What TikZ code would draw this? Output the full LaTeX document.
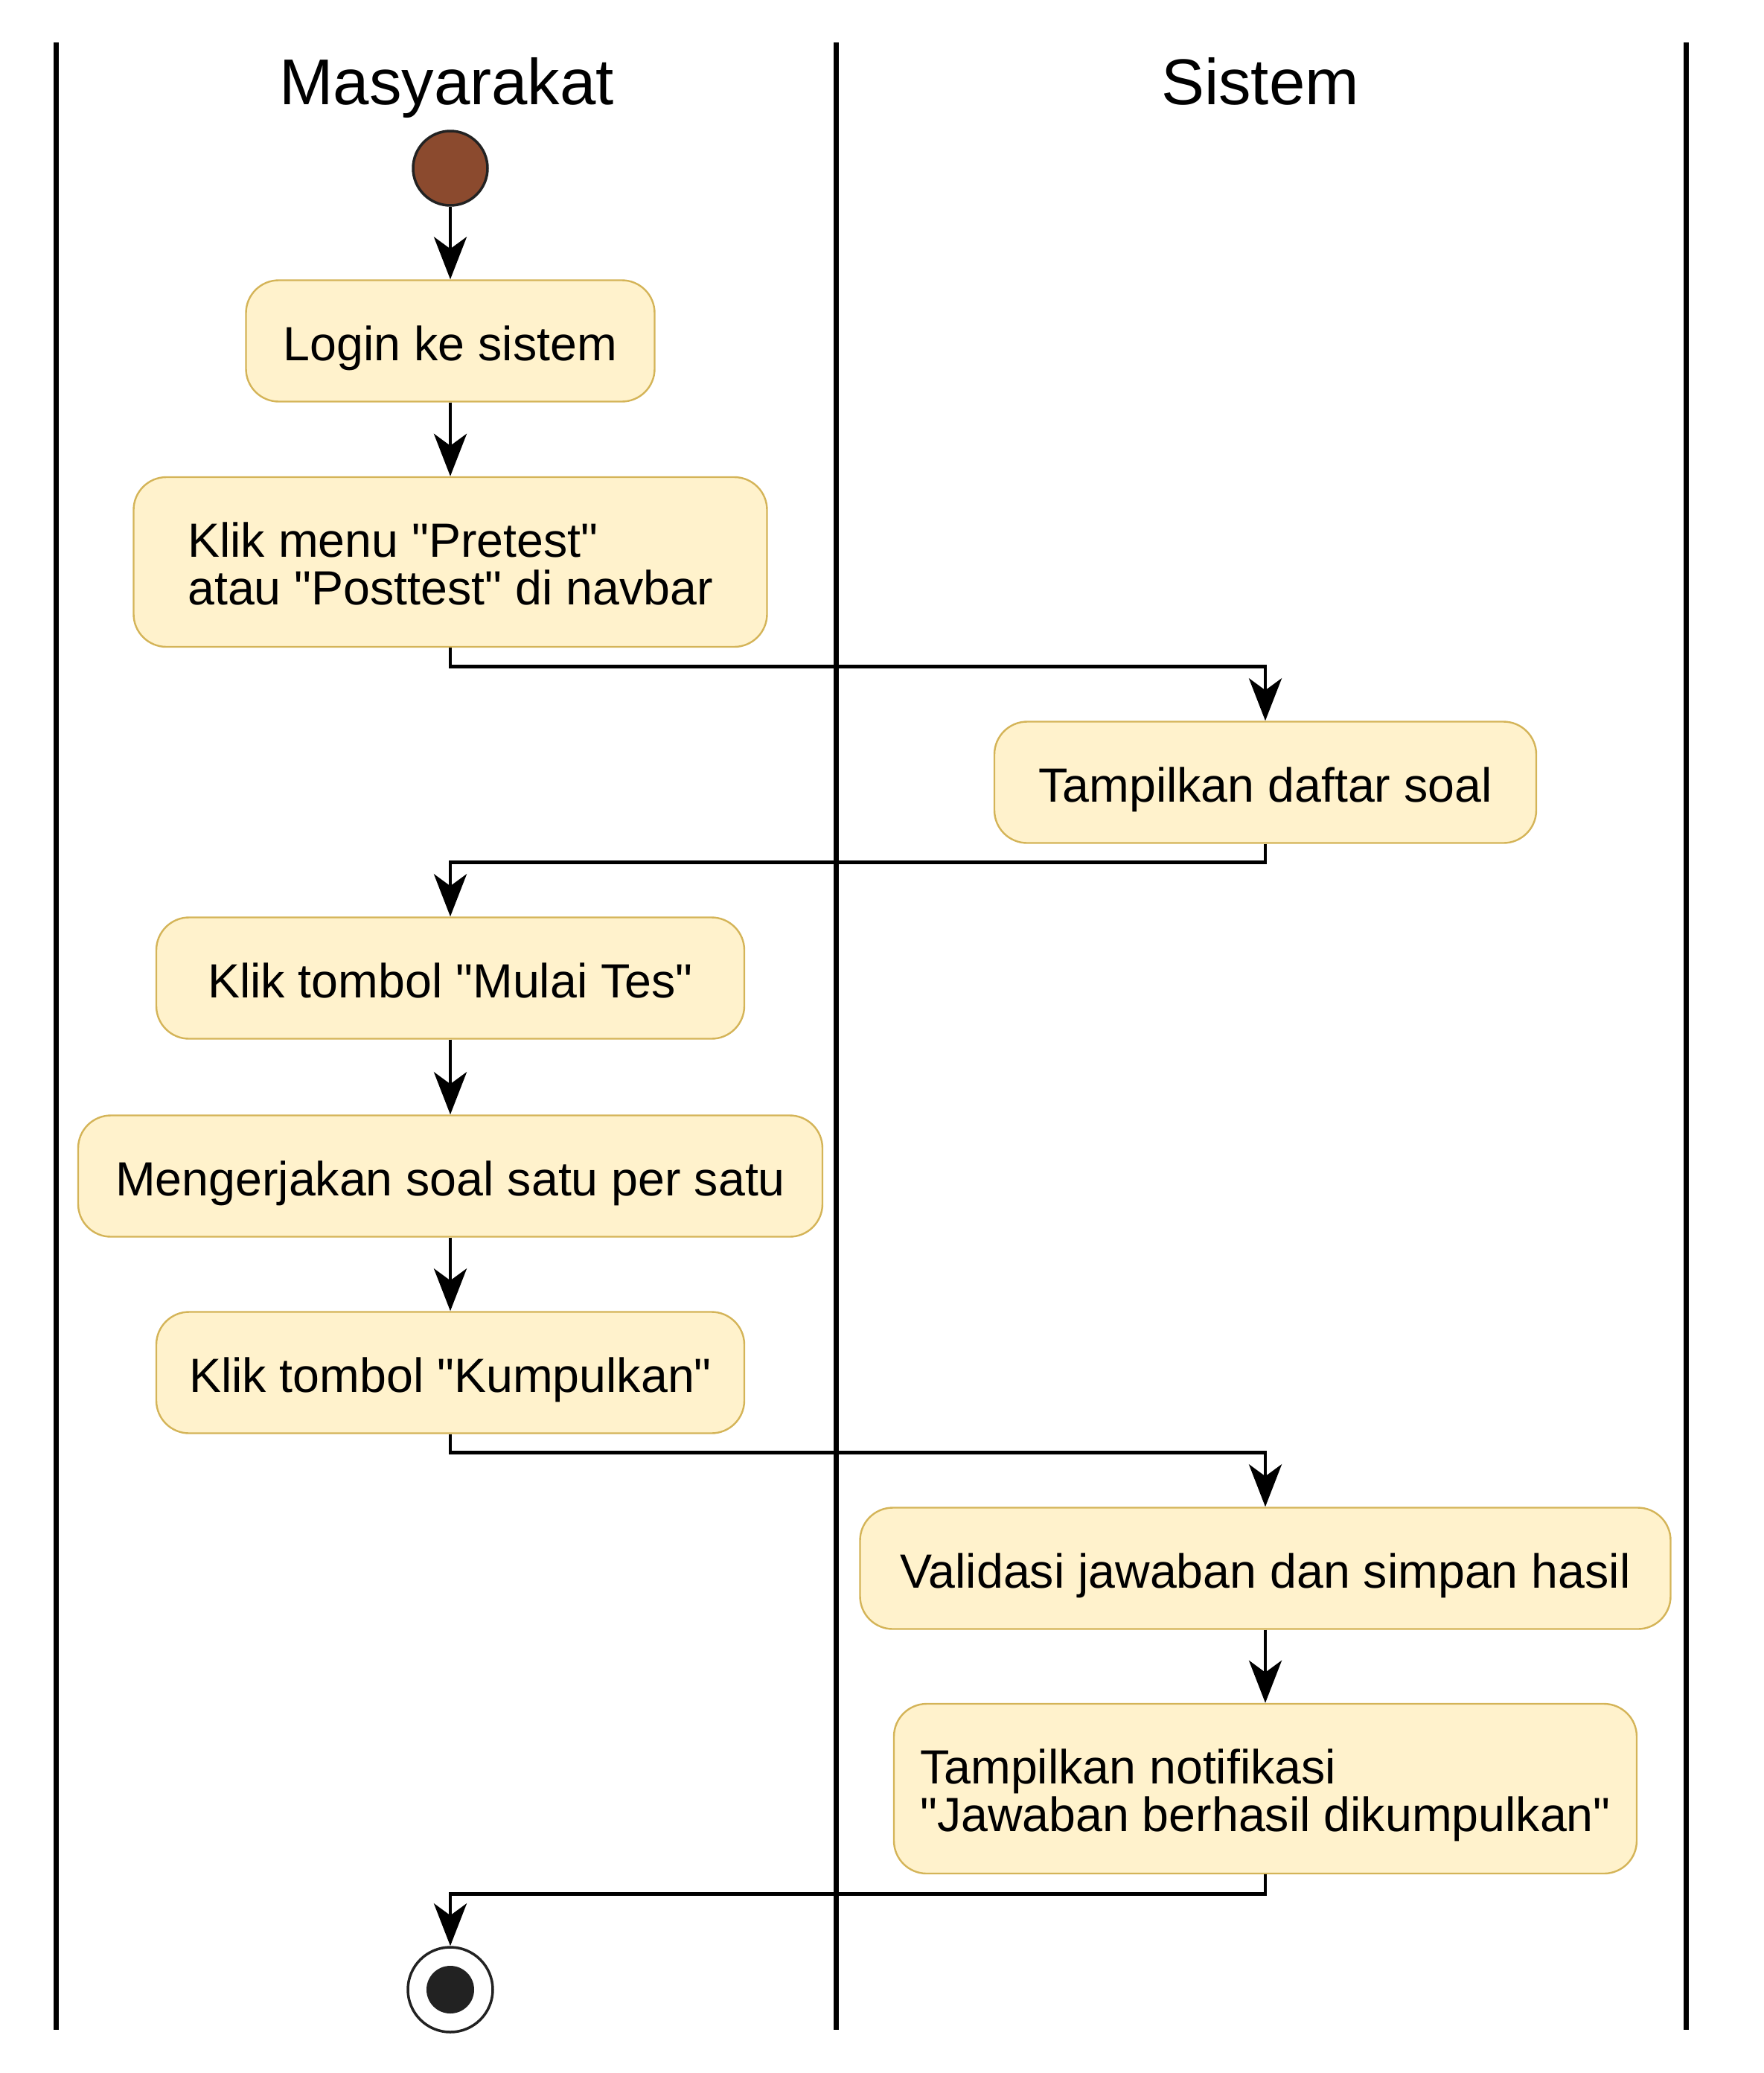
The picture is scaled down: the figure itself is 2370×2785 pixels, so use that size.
\documentclass[tikz,border=0pt]{standalone}
\usepackage{fontspec}
\setmainfont{Liberation Sans}[Ligatures=TeXOff]
\usetikzlibrary{arrows.meta}
\definecolor{boxfill}{HTML}{FFF2CC}
\definecolor{boxline}{HTML}{D4B458}
\definecolor{startfill}{HTML}{8B4A2E}
\definecolor{darkline}{HTML}{222222}
\begin{document}
\begin{tikzpicture}[x=0.5pt,y=-0.5pt,
  lane/.style={line width=3.5pt,black},
  title/.style={font=\fontsize{43.5pt}{50pt}\selectfont,anchor=base},
  act/.style={draw=boxline,fill=boxfill,line width=1.2pt,rounded corners=22pt,
    minimum height=81.5pt,inner xsep=5pt,inner ysep=0pt,
    text height=26.3pt,text depth=0pt,
    font=\fontsize{32.25pt}{32pt}\selectfont,align=left,text=black},
  act2/.style={act,minimum height=114pt,text height=57pt,text depth=0pt},
  arr/.style={line width=2.4pt,black,-{Stealth[length=28.5pt,width=22pt,inset=8pt]}},
]
\useasboundingbox (0,0) rectangle (2370,2785);
% swimlanes
\draw[lane] (75,57) -- (75,2727);
\draw[lane] (1123,57) -- (1123,2727);
\draw[lane] (2265,57) -- (2265,2727);
\node[title] (tm) at (600,140) {Masyarakat};
\node[title] (ts) at (1693,140) {Sistem};
% start
\node[circle,draw=darkline,fill=startfill,line width=1.75pt,minimum size=50pt,inner sep=0pt] (start) at (605,226) {};
% activities
\node[act,minimum width=274.5pt] (login) at (605,458) {Login ke sistem};
\node[act2,minimum width=425.5pt] (klik) at (605,755) {Klik menu "Pretest"\\atau "Posttest" di navbar};
\node[act,minimum width=364pt] (tampil) at (1700,1051) {Tampilkan daftar soal};
\node[act,minimum width=395pt] (mulai) at (605,1314) {Klik tombol "Mulai Tes"};
\node[act,minimum width=500pt] (kerja) at (605,1580) {Mengerjakan soal satu per satu};
\node[act,minimum width=395pt] (kumpul) at (605,1844) {Klik tombol "Kumpulkan"};
\node[act,minimum width=544.5pt] (valid) at (1700,2107) {Validasi jawaban dan simpan hasil};
\node[act2,minimum width=499pt] (notif) at (1700,2403) {Tampilkan notifikasi\\"Jawaban berhasil dikumpulkan"};
% end
\node[circle,draw=darkline,fill=white,line width=1.75pt,minimum size=57pt,inner sep=0pt] (stop) at (605,2673) {};
\node[circle,fill=darkline,minimum size=32pt,inner sep=0pt] (stopin) at (stop) {};
% connectors
\draw[arr] (start) -- (login);
\draw[arr] (login) -- (klik);
\draw[arr] (klik.south) -- ++(0,25) -| (tampil.north);
\draw[arr] (tampil.south) -- ++(0,25) -| (mulai.north);
\draw[arr] (mulai) -- (kerja);
\draw[arr] (kerja) -- (kumpul);
\draw[arr] (kumpul.south) -- ++(0,25) -| (valid.north);
\draw[arr] (valid) -- (notif);
\draw[arr] (notif.south) -- ++(0,26) -| (stop.north);
\end{tikzpicture}
\end{document}
